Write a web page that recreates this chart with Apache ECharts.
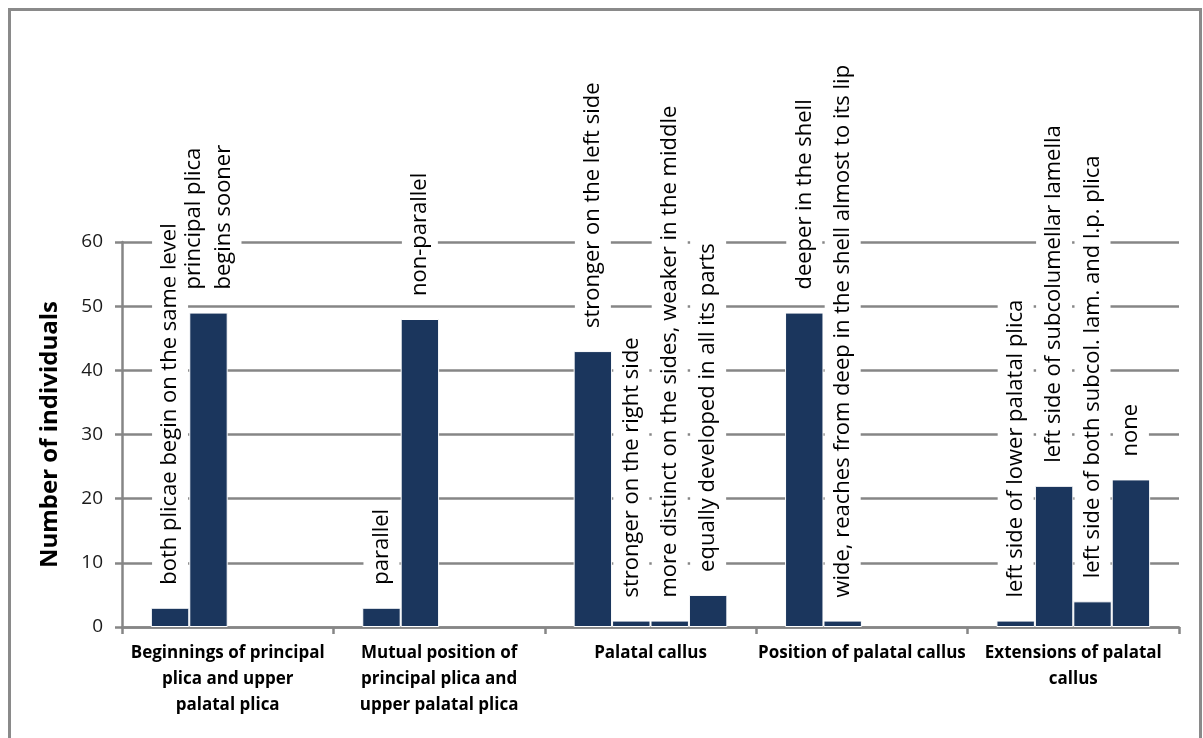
<!DOCTYPE html>
<html>
<head>
<meta charset="utf-8">
<title>Palatal characters</title>
<script src="https://cdn.jsdelivr.net/npm/echarts@6/dist/echarts.min.js"></script>
<style>
  html, body { margin: 0; padding: 0; background: #fff; }
  #chart { width: 1203px; height: 738px; }
</style>
</head>
<body>
<div id="chart"></div>
<script>
// Character groups along the x axis
const categories = [
  'Beginnings of principal\nplica and upper\npalatal plica',
  'Mutual position of\nprincipal plica and\nupper palatal plica',
  'Palatal callus',
  'Position of palatal callus',
  'Extensions of palatal\ncallus'
];

// Number of individuals per character state ('-' = no such state)
const state1Values = [3, 3, 43, 49, 1];
const state2Values = [49, 48, 1, 1, 22];
const state3Values = ['-', '-', 1, '-', 4];
const state4Values = ['-', '-', 5, '-', 23];

// Names of the character states
const state1Names = [
  'both plicae begin on the same level',
  'parallel',
  'stronger on the left side',
  'deeper in the shell',
  'left side of lower palatal plica'
];
const state2Names = [
  'principal plica\nbegins sooner',
  'non-parallel',
  'stronger on the right side',
  'wide, reaches from deep in the shell almost to its lip',
  'left side of subcolumellar lamella'
];
const state3Names = ['', '', 'more distinct on the sides, weaker in the middle', '', 'left side of both subcol. lam. and l.p. plica'];
const state4Names = ['', '', 'equally developed in all its parts', '', 'none'];

const yTicks = [0, 10, 20, 30, 40, 50, 60];

const FONT = '"Open Sans"';
const GREY = '#868686';
const BAR = '#1b365d';

function stateSeries(values, names) {
  return {
    type: 'bar',
    barGap: '0%',
    barCategoryGap: '27.3%',
    itemStyle: { color: BAR, borderColor: '#ffffff', borderWidth: 1 },
    label: {
      show: true,
      position: 'top',
      rotate: 90,
      align: 'left',
      verticalAlign: 'middle',
      distance: 18,
      color: '#000',
      fontFamily: FONT,
      fontSize: 22,
      lineHeight: 30,
      backgroundColor: '#fff',
      padding: [3, 5, 3, 5],
      formatter: p => names[p.dataIndex]
    },
    data: values
  };
}

const chart = echarts.init(document.getElementById('chart'));
chart.setOption({
  animation: false,
  backgroundColor: '#fff',
  grid: { left: 122, right: 24, top: 242, bottom: 111, containLabel: false },
  xAxis: {
    type: 'category',
    data: categories,
    axisLine: { lineStyle: { color: GREY, width: 2.5 } },
    axisTick: { show: true, length: 7, lineStyle: { color: GREY, width: 2.5 } },
    axisLabel: {
      interval: 0,
      margin: 13,
      color: '#000',
      fontFamily: FONT,
      fontWeight: 'bold',
      fontSize: 17,
      lineHeight: 26
    }
  },
  yAxis: {
    type: 'value',
    min: yTicks[0],
    max: yTicks[yTicks.length - 1],
    interval: 10,
    name: 'Number of individuals',
    nameLocation: 'middle',
    nameGap: 60,
    nameTextStyle: { color: '#000', fontFamily: FONT, fontWeight: 'bold', fontSize: 24 },
    axisLine: { show: true, lineStyle: { color: GREY, width: 2.5 } },
    axisTick: { show: true, length: 7, lineStyle: { color: GREY, width: 2.5 } },
    axisLabel: { margin: 19, color: '#1a1a1a', fontFamily: FONT, fontSize: 19 },
    splitLine: { show: true, lineStyle: { color: GREY, width: 2.5 } }
  },
  graphic: [{
    type: 'rect',
    shape: { x: 9.5, y: 9.5, width: 1191, height: 780 },
    style: { fill: null, stroke: '#8a8a8a', lineWidth: 3 },
    silent: true,
    z: 100
  }],
  series: [
    stateSeries(state1Values, state1Names),
    stateSeries(state2Values, state2Names),
    stateSeries(state3Values, state3Names),
    stateSeries(state4Values, state4Names)
  ]
});
</script>
</body>
</html>
